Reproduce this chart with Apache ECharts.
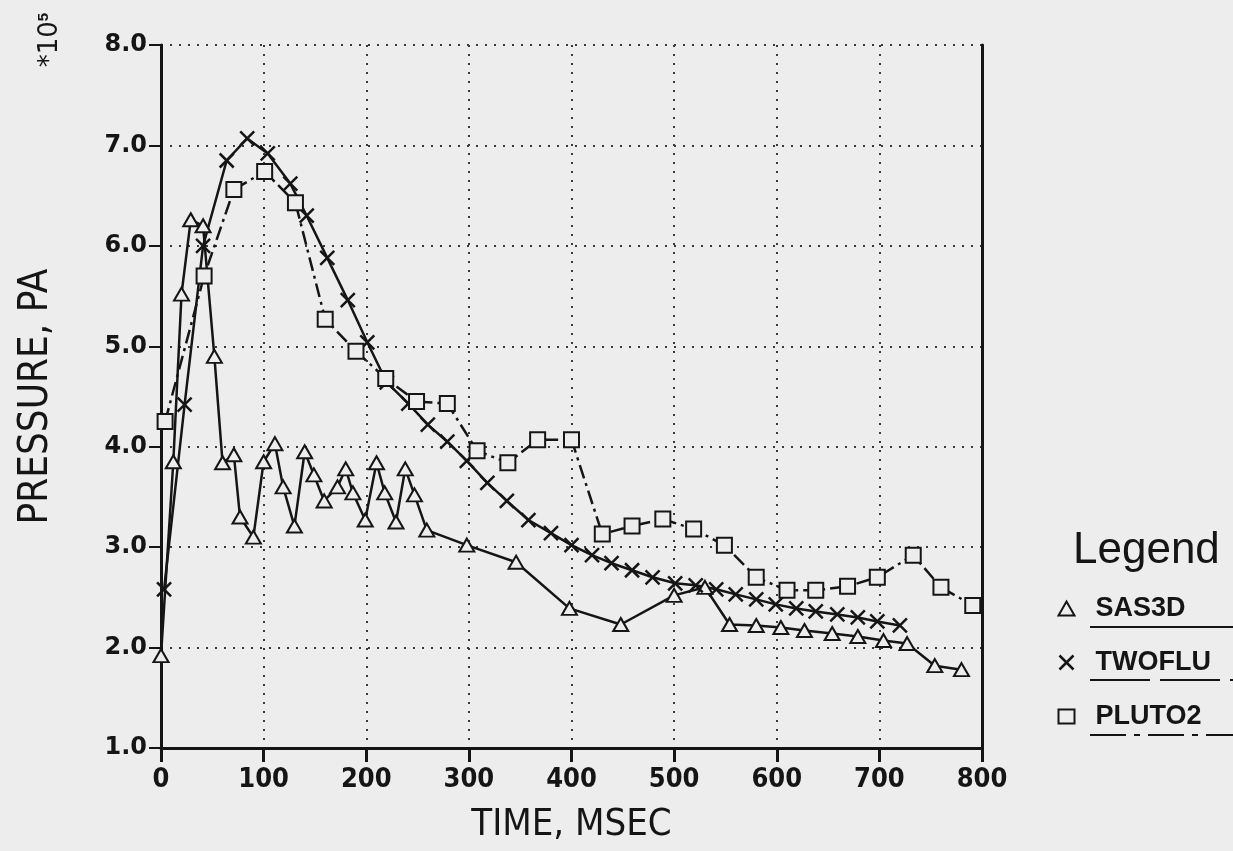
<!DOCTYPE html>
<html>
<head>
<meta charset="utf-8">
<script src="https://cdn.jsdelivr.net/npm/echarts@6/dist/echarts.min.js"></script>
<style>
    html, body { margin: 0; padding: 0; background: #ededed; }
    #chart { width: 1233px; height: 851px; }
</style>
</head>
<body>
<div id="chart"></div>
<script>
    // values (time in msec, pressure in 1e5 Pa)
    var sas3dTime = [0, 12, 20, 29, 41, 52, 60, 71, 77, 90, 100, 111, 119, 130, 140, 149, 159, 172, 180, 187, 199, 210, 218, 229, 238, 247, 259, 298, 346, 398, 448, 500, 530, 554, 580, 604, 627, 654, 679, 704, 727, 754, 780];
    var sas3dPressure = [1.92, 3.85, 5.52, 6.26, 6.2, 4.9, 3.84, 3.92, 3.3, 3.1, 3.85, 4.03, 3.6, 3.21, 3.95, 3.72, 3.46, 3.6, 3.78, 3.54, 3.27, 3.84, 3.54, 3.25, 3.78, 3.52, 3.17, 3.02, 2.85, 2.39, 2.23, 2.52, 2.6, 2.23, 2.22, 2.2, 2.17, 2.14, 2.11, 2.07, 2.04, 1.82, 1.78];

    var twofluTime = [3, 23, 41, 64, 84, 104, 126, 142, 162, 182, 201, 220, 241, 260, 279, 298, 318, 337, 358, 380, 400, 420, 439, 459, 479, 501, 521, 541, 560, 580, 599, 619, 638, 659, 679, 698, 720];
    var twofluPressure = [2.58, 4.42, 6.0, 6.85, 7.07, 6.92, 6.62, 6.3, 5.88, 5.46, 5.04, 4.64, 4.43, 4.22, 4.05, 3.86, 3.64, 3.46, 3.27, 3.14, 3.02, 2.92, 2.84, 2.77, 2.7, 2.64, 2.62, 2.58, 2.53, 2.48, 2.43, 2.39, 2.36, 2.33, 2.3, 2.26, 2.22];

    var plutoTime = [4, 42, 71, 101, 131, 160, 190, 219, 249, 279, 308, 338, 367, 400, 430, 459, 489, 519, 549, 580, 610, 638, 669, 698, 733, 760, 791];
    var plutoPressure = [4.25, 5.7, 6.56, 6.74, 6.43, 5.27, 4.95, 4.68, 4.45, 4.43, 3.96, 3.84, 4.07, 4.07, 3.13, 3.21, 3.28, 3.18, 3.02, 2.7, 2.57, 2.57, 2.61, 2.7, 2.92, 2.6, 2.42];

    var seriesNames = ['SAS3D', 'TWOFLU', 'PLUTO2'];

    var ink = '#151515';
    var paper = '#ededed';
    var crossPath = 'path://M0,0L10,10M10,0L0,10';

    function pairs(xs, ys) {
        var out = [];
        for (var i = 0; i < xs.length; i++) {
            out.push([xs[i], ys[i]]);
        }
        return out;
    }

    var chart = echarts.init(document.getElementById('chart'));

    var hollow = { color: paper, borderColor: ink, borderWidth: 2 };

    var option = {
        backgroundColor: paper,
        animation: false,
        title: {
            text: 'Legend',
            left: 1068,
            top: 524,
            textStyle: { fontFamily: 'Liberation Sans', fontSize: 44, fontWeight: 'normal', color: ink }
        },
        legend: {
            orient: 'vertical',
            left: 1052,
            top: 590,
            itemGap: 27,
            itemWidth: 16,
            itemHeight: 14,
            textStyle: {
                fontFamily: 'Liberation Sans',
                fontWeight: 'bold',
                fontSize: 27,
                color: ink,
                padding: [0, 0, 0, 16]
            },
            data: [
                { name: 'SAS3D', icon: 'triangle', itemStyle: hollow },
                { name: 'TWOFLU', icon: crossPath, itemStyle: { color: 'none', borderColor: ink, borderWidth: 2.5 } },
                { name: 'PLUTO2', icon: 'rect', itemStyle: hollow }
            ]
        },
        grid: { left: 161, right: 251, top: 45, bottom: 103 },
        xAxis: {
            type: 'value',
            min: 0,
            max: 800,
            interval: 100,
            name: 'TIME, MSEC',
            nameLocation: 'middle',
            nameGap: 58,
            nameTextStyle: { fontFamily: "'DejaVu Sans Condensed', sans-serif", fontSize: 38, color: ink },
            axisLine: { lineStyle: { color: ink, width: 3 } },
            axisTick: { length: 14, lineStyle: { color: ink, width: 3 } },
            axisLabel: {
                margin: 18,
                fontFamily: "'Liberation Sans Narrow', 'DejaVu Sans Condensed', sans-serif",
                fontWeight: 'bold',
                fontSize: 27,
                color: ink
            },
            splitLine: { show: true, lineStyle: { color: '#3a3a3a', width: 2, type: [2, 7] } }
        },
        yAxis: [
            {
                type: 'value',
                min: 1,
                max: 8,
                interval: 1,
                name: 'PRESSURE, PA',
                nameLocation: 'middle',
                nameGap: 104,
                nameTextStyle: { fontFamily: "'DejaVu Sans Condensed', sans-serif", fontSize: 40, color: ink },
                axisLine: { show: true, lineStyle: { color: ink, width: 3 } },
                axisTick: { show: true, length: 12, lineStyle: { color: ink, width: 2 } },
                axisLabel: {
                    margin: 14,
                    fontFamily: 'DejaVu Sans',
                    fontWeight: 'bold',
                    fontSize: 24,
                    color: ink,
                    formatter: function (v) { return v.toFixed(1); }
                },
                splitLine: { show: true, lineStyle: { color: '#3a3a3a', width: 2, type: [2, 7] } }
            },
            {
                // right frame line only
                type: 'value',
                position: 'right',
                min: 1,
                max: 8,
                interval: 1,
                axisLine: { show: true, lineStyle: { color: ink, width: 3 } },
                axisTick: { show: false },
                axisLabel: { show: false },
                splitLine: { show: false }
            }
        ],
        graphic: [
            {
                type: 'text',
                x: 50,
                y: 40,
                rotation: Math.PI / 2,
                style: {
                    text: '*10{s|5}',
                    rich: { s: { fontSize: 15, fontWeight: 'bold', verticalAlign: 'top', padding: [0, 0, 12, 0] } },
                    fontFamily: 'DejaVu Sans',
                    fontSize: 26,
                    fill: ink,
                    align: 'center',
                    verticalAlign: 'middle'
                }
            },
            {
                type: 'line',
                shape: { x1: 1090, y1: 627, x2: 1233, y2: 627 },
                style: { stroke: ink, lineWidth: 2 }
            },
            {
                type: 'line',
                shape: { x1: 1090, y1: 680, x2: 1233, y2: 680 },
                style: { stroke: ink, lineWidth: 2, lineDash: [60, 10] }
            },
            {
                type: 'line',
                shape: { x1: 1090, y1: 735, x2: 1233, y2: 735 },
                style: { stroke: ink, lineWidth: 2, lineDash: [36, 8, 6, 8] }
            }
        ],
        series: [
            {
                name: seriesNames[0],
                type: 'line',
                data: pairs(sas3dTime, sas3dPressure),
                symbol: 'triangle',
                symbolSize: [15, 13],
                itemStyle: hollow,
                lineStyle: { color: ink, width: 2.5 }
            },
            {
                name: seriesNames[1],
                type: 'line',
                data: pairs(twofluTime, twofluPressure),
                symbol: crossPath,
                symbolSize: 14,
                itemStyle: { color: 'none', borderColor: ink, borderWidth: 2.5 },
                lineStyle: { color: ink, width: 2.5 }
            },
            {
                name: seriesNames[2],
                type: 'line',
                data: pairs(plutoTime, plutoPressure),
                symbol: 'rect',
                symbolSize: 15,
                itemStyle: hollow,
                lineStyle: { color: ink, width: 2.5, type: [14, 5, 3, 5] }
            }
        ]
    };

    chart.setOption(option);
</script>
</body>
</html>
